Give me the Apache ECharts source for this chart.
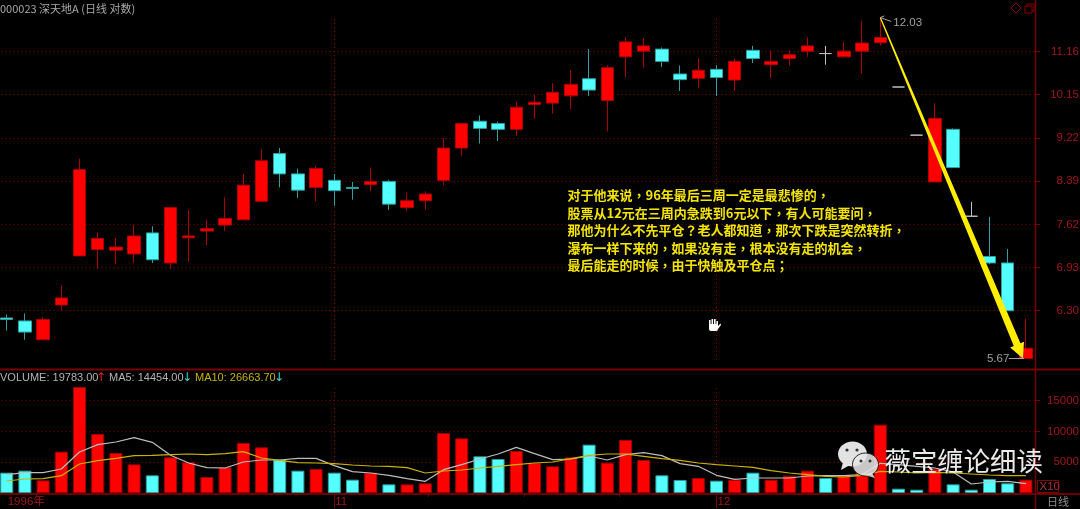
<!DOCTYPE html>
<html><head><meta charset="utf-8">
<style>html,body{margin:0;padding:0;background:#000}#c{width:1080px;height:509px}</style>
<script src="https://cdn.jsdelivr.net/npm/echarts@6/dist/echarts.min.js"></script>
</head><body><div id="c"></div>
<script>
const categories = ['1996年','','','','','','','','','','','','','','','','','','11','','','','','','','','','','','','','','','','','','','','','12','','','','','','','','','','','','','','','','',''];
const opens = [6.20,6.16,5.91,6.38,7.11,7.21,7.20,7.14,7.48,7.00,7.40,7.51,7.61,7.70,8.02,8.91,8.52,8.27,8.40,8.27,8.32,8.38,7.91,8.03,8.40,9.02,9.57,9.52,9.40,9.93,9.96,10.12,10.51,10.02,11.03,11.17,11.22,10.62,10.52,10.73,10.48,11.19,10.84,10.99,11.17,11.11,11.03,11.17,11.38,10.32,9.28,8.37,9.40,7.76,7.10,7.00,5.67];
const closes = [6.18,6.01,6.18,6.48,8.60,7.39,7.25,7.43,7.05,7.91,7.43,7.55,7.72,8.31,8.77,8.52,8.22,8.62,8.21,8.25,8.38,7.97,8.03,8.15,9.02,9.52,9.42,9.40,9.87,9.98,10.20,10.38,10.25,10.77,11.40,11.30,10.92,10.49,10.71,10.54,10.92,10.99,10.92,11.08,11.30,11.11,11.17,11.37,11.51,10.32,9.28,9.63,8.64,7.76,7.00,6.30,5.80];
const lows = [6.03,5.91,5.91,6.30,7.11,6.91,6.98,7.00,7.00,6.91,7.02,7.28,7.51,7.70,8.02,8.27,8.08,8.02,7.94,8.05,8.20,7.87,7.85,7.87,8.31,8.86,9.11,9.16,9.26,9.62,9.73,9.83,10.12,9.36,10.54,10.77,10.79,10.23,10.29,10.12,10.23,10.88,10.52,10.82,11.03,10.84,11.02,10.63,11.31,10.32,9.28,8.37,8.64,7.76,6.98,6.30,5.67];
const highs = [6.25,6.26,6.21,6.66,8.81,7.49,7.40,7.61,7.59,7.91,7.87,7.70,8.09,8.52,9.00,9.02,8.62,8.68,8.52,8.37,8.64,8.41,8.17,8.20,9.21,9.52,9.69,9.56,10.00,10.14,10.41,10.71,11.22,10.83,11.52,11.50,11.26,10.82,11.00,10.83,10.98,11.30,11.19,11.19,11.52,11.30,11.40,11.94,12.03,10.32,9.28,9.96,9.42,8.01,7.75,7.22,6.19];
const volumes = [3300,3625,2055,6710,17200,9575,6490,4650,2870,5790,4980,2600,4165,8115,7410,5410,3625,3895,3300,2165,3300,1405,1405,1570,9740,8870,5950,5520,6815,4870,4330,5790,7845,4920,8600,5355,2870,2110,2435,2000,2165,3300,2165,2815,3625,2435,2870,3245,11090,700,540,3950,1405,540,2270,1570,2165];
const ma5 = [2975,3300,3300,3895,6650,7845,8280,8980,8225,6115,4870,4110,4060,5030,5355,5355,5625,5625,4435,3460,3245,2870,2325,1895,3785,4600,5520,6330,7410,6385,5410,5520,6005,5355,6220,6545,6060,4760,4330,2870,2220,2435,2435,2435,2760,2815,2815,2975,4815,4600,4330,4060,3410,1460,1785,1895,1515];
const ma10 = [1950,2270,2325,2815,4705,5250,5625,6060,6115,6220,6330,6220,6385,6710,5680,5300,4925,4870,4760,4545,4380,4330,4110,3245,3570,3730,4060,4330,4600,4870,5030,5570,6115,6330,6330,5950,5570,5300,4870,4600,4380,4165,3625,3245,2975,2705,2600,2870,3515,3410,3245,3355,3245,3085,2920,2815,2815];
const priceTicks = [6.30,6.93,7.62,8.39,9.22,10.15,11.16];
const volumeTicks = [5000,10000,15000];
const monthStarts = [18,39];
const annotationLines = ['对于他来说，96年最后三周一定是最悲惨的，','股票从12元在三周内急跌到6元以下，有人可能要问，','那他为什么不先平仓？老人都知道，那次下跌是突然转折，','瀑布一样下来的，如果没有走，根本没有走的机会，','最后能走的时候，由于快触及平仓点；'];
const titleText = '000023 深天地A (日线 对数)';

const RED='#ff0000', CYAN='#55ffff', GRID='#8c0000', AXIS='#7a0000', LBL='#a01818';
const LAT='"Liberation Sans","Noto Sans CJK SC",sans-serif', CJK='"Noto Sans CJK SC",sans-serif', CJKT='"Noto Sans CJK TC",sans-serif';
const L = Math.log;
const priceMin = L(5.651), priceMax = L(12.07), volMax = 19800;
const dotted = {color:GRID,type:[1,3],width:1};
const monthLine = (a,b)=>({z:1,silent:true,symbol:['none','none'],animation:false,label:{show:false},emphasis:{disabled:true},lineStyle:dotted,
  data:monthStarts.map(i=>[{coord:[i,a]},{coord:[i,b]}])});

const txt=(text,x,y,fill,font,z)=>({type:'text',z:z||100,silent:true,style:{text,x,y,fill,font,textVerticalAlign:'middle'}});
const ln=(x1,y1,x2,y2,stroke,lineWidth)=>({type:'line',z:50,silent:true,shape:{x1,y1,x2,y2},style:{stroke,lineWidth:lineWidth||1}});
const smallFont='11px '+LAT;
const wm=(o)=>Object.assign({z:120,silent:true},o);

const graphic=[
  ln(1035.5,0,1035.5,509,AXIS,1.5), ln(0,369.5,1080,369.5,AXIS,2), ln(0,494,1080,494,'#6a0000',2),
  ln(428.5,494,428.5,497,AXIS), ln(524.5,494,524.5,497,AXIS), ln(619.5,494,619.5,497,AXIS),
  txt(titleText,0,8.5,'#a8a8a8','11px '+CJK),
  txt('VOLUME: 19783.00',0,377.5,'#b4b4b4',smallFont),
  txt('↑',96,377.5,'#e02020','12px "DejaVu Sans"'),
  txt('MA5: 14454.00',109,377.5,'#b4b4b4',smallFont),
  txt('↓',182,377.5,'#40d8d8','12px "DejaVu Sans"'),
  txt('MA10: 26663.70',195,377.5,'#c8b400',smallFont),
  txt('↓',274,377.5,'#40d8d8','12px "DejaVu Sans"'),
  ...annotationLines.map((t,i)=>txt(t,567.5,195+17.6*i,'#f4e400','bold 13px '+CJKT)),
  {type:'polygon',z:60,silent:true,shape:{points:[[1016,3],[1021,8],[1016,13],[1011,8]]},style:{fill:'none',stroke:'#8a0000',lineWidth:1}},
  {type:'rect',z:60,silent:true,shape:{x:1025,y:6,width:7,height:7},style:{fill:'none',stroke:'#8a0000',lineWidth:1}},
  {type:'polyline',z:60,silent:true,shape:{points:[[1027,6],[1027,4],[1034,4],[1034,11],[1032,11]]},style:{fill:'none',stroke:'#8a0000',lineWidth:1}},
  {type:'rect',z:60,silent:true,shape:{x:1037.5,y:480.5,width:21,height:12},style:{fill:'#000',stroke:'#8a0000',lineWidth:1}},
  txt('X10',1039.5,487,'#a83030','11.5px '+LAT),
  txt('日线',1047,502,'#909090','11px '+CJK),
  // hand cursor
  wm({type:'rect',shape:{x:709,y:324,width:9,height:7,r:2},style:{fill:'#fff'}}),
  wm({type:'rect',shape:{x:709,y:320,width:1.6,height:6},style:{fill:'#fff'}}),
  wm({type:'rect',shape:{x:711.5,y:319,width:1.6,height:6},style:{fill:'#fff'}}),
  wm({type:'rect',shape:{x:714,y:319,width:1.6,height:6},style:{fill:'#fff'}}),
  wm({type:'rect',shape:{x:716.4,y:321,width:1.6,height:5},style:{fill:'#fff'}}),
  wm({type:'polygon',shape:{points:[[718,326],[720.5,323.5],[721,325],[718,329]]},style:{fill:'#fff'}}),
  // watermark
  wm({type:'ellipse',shape:{cx:852.5,cy:454,rx:14.5,ry:12.5},style:{fill:'#e2e2e2'}}),
  wm({type:'polygon',shape:{points:[[843,462],[841,470],[850,465]]},style:{fill:'#e2e2e2'}}),
  wm({type:'circle',shape:{cx:847,cy:450,r:1.6},style:{fill:'#333'}}),
  wm({type:'circle',shape:{cx:857,cy:450,r:1.6},style:{fill:'#333'}}),
  wm({type:'ellipse',z:121,shape:{cx:865.5,cy:464.5,rx:13,ry:11.5},style:{fill:'#e4e4e4',opacity:.88,stroke:'#111',lineWidth:1}}),
  wm({type:'polygon',z:121,shape:{points:[[872,473],[875,478],[865,475]]},style:{fill:'#e4e4e4',opacity:.88}}),
  wm({type:'circle',z:122,shape:{cx:861,cy:461,r:1.5},style:{fill:'#333'}}),
  wm({type:'circle',z:122,shape:{cx:870,cy:461,r:1.5},style:{fill:'#333'}}),
  wm({type:'text',z:122,style:{text:'薇宝缠论细读',x:884.5,y:460.5,fill:'rgba(255,255,255,.92)',font:'26.4px '+CJK,textVerticalAlign:'middle'}})
];

const arrowItem = (params, api)=>{
  const a=api.coord([api.value(0),api.value(1)]), b=api.coord([api.value(2),api.value(3)]);
  const sx=a[0], sy=a[1], ex=b[0]-3, ey=b[1];
  const dx=ex-sx, dy=ey-sy, len=Math.hypot(dx,dy), ux=dx/len, uy=dy/len, nx=-uy, ny=ux;
  const nk=[ex-ux*15, ey-uy*15];
  const pt=(c,w)=>[c[0]+nx*w,c[1]+ny*w];
  return {type:'group',children:[
    {type:'polygon',shape:{points:[pt([sx,sy],.6),pt(nk,3.6),pt(nk,7.5),[ex,ey],pt(nk,-7.5),pt(nk,-3.6),pt([sx,sy],-.6)]},style:{fill:'#ffee00'}},
    {type:'polyline',shape:{points:[[sx+11,sy+4],[sx+4,sy+1.5],[sx,sy],[sx+4,sy-1.5]]},style:{fill:'none',stroke:'#a8a8a8',lineWidth:1}},
    {type:'text',style:{text:Math.exp(api.value(1)).toFixed(2),x:sx+13,y:sy+5,fill:'#a0a0a0',font:'11.5px '+LAT,textVerticalAlign:'middle'}},
    {type:'polyline',shape:{points:[[b[0]-17,ey],[b[0]-2,ey],[b[0]-5,ey-2]]},style:{fill:'none',stroke:'#a8a8a8',lineWidth:1}},
    {type:'text',style:{text:Math.exp(api.value(3)).toFixed(2),x:b[0]-39,y:ey,fill:'#a0a0a0',font:'11.5px '+LAT,textVerticalAlign:'middle'}}
  ]};
};

const candleData = opens.map((o,i)=>[L(o),L(closes[i]),L(lows[i]),L(highs[i])]);
const volData = volumes.map((v,i)=>({value:v,itemStyle:{color:closes[i]>opens[i]?RED:CYAN,borderColor:closes[i]>opens[i]?'#a00000':'#2f9c9c',borderWidth:1}}));

const option={
  backgroundColor:'#000',animation:false,graphic,
  grid:[{left:-2.4,right:45,top:16,height:344,outerBoundsMode:'none'},{left:-2.4,right:45,top:371,height:122,outerBoundsMode:'none'}],
  xAxis:[
    {type:'category',gridIndex:0,data:categories,axisLine:{show:false},axisTick:{show:false},axisLabel:{show:false},splitLine:{show:false}},
    {type:'category',gridIndex:1,data:categories,axisLine:{show:false},
     axisTick:{show:true,alignWithLabel:true,length:15,interval:i=>monthStarts.includes(i),lineStyle:{color:AXIS}},
     axisLabel:{interval:0,align:'left',margin:3,color:LBL,fontSize:11.5,fontFamily:LAT,padding:[0,0,0,1]},splitLine:{show:false}}
  ],
  yAxis:[
    {type:'value',gridIndex:0,position:'right',min:priceMin,max:priceMax,scale:true,
     axisLine:{show:false},axisTick:{show:true,length:5,customValues:priceTicks.map(L),lineStyle:{color:AXIS}},
     axisLabel:{customValues:priceTicks.map(L),formatter:v=>Math.exp(v).toFixed(2),align:'right',margin:44,color:LBL,fontSize:11.5,fontFamily:LAT},
     splitLine:{show:true,lineStyle:dotted}},
    {type:'value',gridIndex:1,position:'right',min:0,max:volMax,
     axisLine:{show:false},axisTick:{show:true,length:5,customValues:volumeTicks,lineStyle:{color:AXIS}},
     axisLabel:{customValues:volumeTicks,formatter:v=>String(v),align:'right',margin:44,color:LBL,fontSize:11.5,fontFamily:LAT},
     splitLine:{show:true,lineStyle:dotted}}
  ],
  series:[
    {type:'candlestick',xAxisIndex:0,yAxisIndex:0,barWidth:13,data:candleData,
     itemStyle:{color:RED,color0:CYAN,borderColor:'#b00000',borderColor0:'#2fa0a0',borderColorDoji:'#c0c0c0',borderWidth:1},
     markLine:monthLine(priceMin,priceMax)},
    {type:'custom',xAxisIndex:0,yAxisIndex:0,clip:false,z:10,silent:true,renderItem:arrowItem,
     encode:{x:[0,2],y:[1,3]},data:[[48,L(12.03),56,L(5.67)]]},
    {type:'bar',xAxisIndex:1,yAxisIndex:1,barWidth:13,data:volData,
     markLine:monthLine(0,17200)},
    {type:'line',xAxisIndex:1,yAxisIndex:1,data:ma5,showSymbol:false,symbol:'none',lineStyle:{color:'#bcbcbc',width:1.2},z:4},
    {type:'line',xAxisIndex:1,yAxisIndex:1,data:ma10,showSymbol:false,symbol:'none',lineStyle:{color:'#c8b400',width:1.2},z:5}
  ]
};
echarts.init(document.getElementById('c'),null,{renderer:'canvas'}).setOption(option);
</script></body></html>
